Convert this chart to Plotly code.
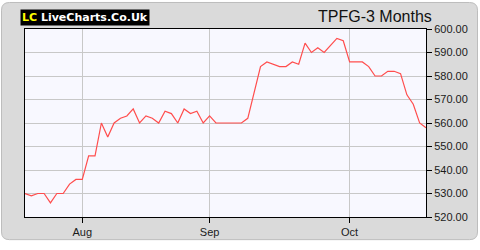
import pandas as pd
import plotly.graph_objects as go

# Trading days 21 Jul 2020 - 19 Oct 2020 (UK; 31 Aug bank holiday)
dates = [d.strftime("%Y-%m-%d") for d in pd.bdate_range("2020-07-21", "2020-10-19") if d.strftime("%Y-%m-%d") != "2020-08-31"]

prices = [530, 529, 530, 530, 526, 530, 530, 534, 536,
          536, 546, 546, 560, 554, 560, 562, 563, 566, 560, 563,
          562, 560, 565, 564, 560, 566, 564, 565, 560,
          563, 560, 560, 560, 560, 560, 562, 573, 584, 586, 585,
          584, 584, 586, 585, 594, 590, 592, 590, 593, 596, 595,
          586, 586, 586, 584, 580, 580, 582, 582, 581, 572, 568, 560, 558]

month_ticks = ["2020-08-03", "2020-09-01", "2020-10-01"]
month_labels = ["Aug", "Sep", "Oct"]
y_ticks = [520, 530, 540, 550, 560, 570, 580, 590, 600]

W, H = 480, 250
L, R, T, B = 25, 54, 29, 26
pw, ph = W - L - R, H - T - B

def px(x):
    return (x - L) / pw

def py(y):
    return (H - B - y) / ph

# rounded background frame
x0, x1, y0, y1, r = 1.5, 477.5, 1.5, 247.5, 8
pts = [
    ("M", x0 + r, y0), ("L", x1 - r, y0), ("Q", x1, y0, x1, y0 + r),
    ("L", x1, y1 - r), ("Q", x1, y1, x1 - r, y1), ("L", x0 + r, y1),
    ("Q", x0, y1, x0, y1 - r), ("L", x0, y0 + r), ("Q", x0, y0, x0 + r, y0),
]
path = ""
for p in pts:
    cmd = p[0]
    coords = p[1:]
    s = []
    for i in range(0, len(coords), 2):
        s.append(f"{px(coords[i]):.5f},{py(coords[i+1]):.5f}")
    path += cmd + " " + " ".join(s) + " "
path += "Z"

fig = go.Figure()
fig.add_trace(go.Scatter(
    x=dates, y=prices, mode="lines",
    line=dict(color="#ff4d4d", width=1.2),
    hoverinfo="skip", showlegend=False,
))

fig.update_layout(
    width=W, height=H,
    margin=dict(l=L, r=R, t=T, b=B),
    paper_bgcolor="white",
    plot_bgcolor="#f8f8ff",
    font=dict(family="Liberation Sans, Arial, sans-serif", size=11, color="#1a1a1a"),
    shapes=[
        dict(type="path", xref="paper", yref="paper", path=path,
             fillcolor="#dadada", line=dict(color="#bdbdbd", width=1), layer="below"),
        dict(type="rect", xref="paper", yref="paper", x0=0, x1=1, y0=0, y1=1,
             fillcolor="#f8f8ff", line=dict(width=0), layer="below"),
    ],
    annotations=[
        dict(xref="paper", yref="paper", x=px(20), y=py(8), xanchor="left", yanchor="top",
             text="<b><span style='color:#ffff00'>LC</span> LiveCharts.Co.Uk</b>",
             showarrow=False, bgcolor="black", borderpad=1,
             font=dict(family="DejaVu Sans, Verdana, sans-serif", size=11, color="white")),
        dict(xref="paper", yref="paper", x=px(434), y=py(16), xanchor="right", yanchor="middle",
             text="TPFG-3 Months", showarrow=False,
             font=dict(family="Liberation Sans, Arial, sans-serif", size=16, color="#111111")),
    ],
)

fig.update_xaxes(
    type="category", categoryorder="array", categoryarray=dates,
    range=[0, len(dates) - 1],
    tickmode="array", tickvals=month_ticks, ticktext=month_labels,
    ticks="outside", ticklen=5, tickcolor="black",
    showgrid=True, gridcolor="#c8c8c8", gridwidth=1,
    showline=True, linecolor="black", linewidth=1, mirror=True,
    zeroline=False, fixedrange=True,
)
fig.update_yaxes(
    side="right", range=[520, 600],
    tickmode="array", tickvals=y_ticks, tickformat=".2f",
    ticks="outside", ticklen=5, tickcolor="black",
    showgrid=True, gridcolor="#c8c8c8", gridwidth=1,
    showline=True, linecolor="black", linewidth=1, mirror=True,
    zeroline=False, fixedrange=True,
)

fig.write_html("out.html", config={"displayModeBar": False})
